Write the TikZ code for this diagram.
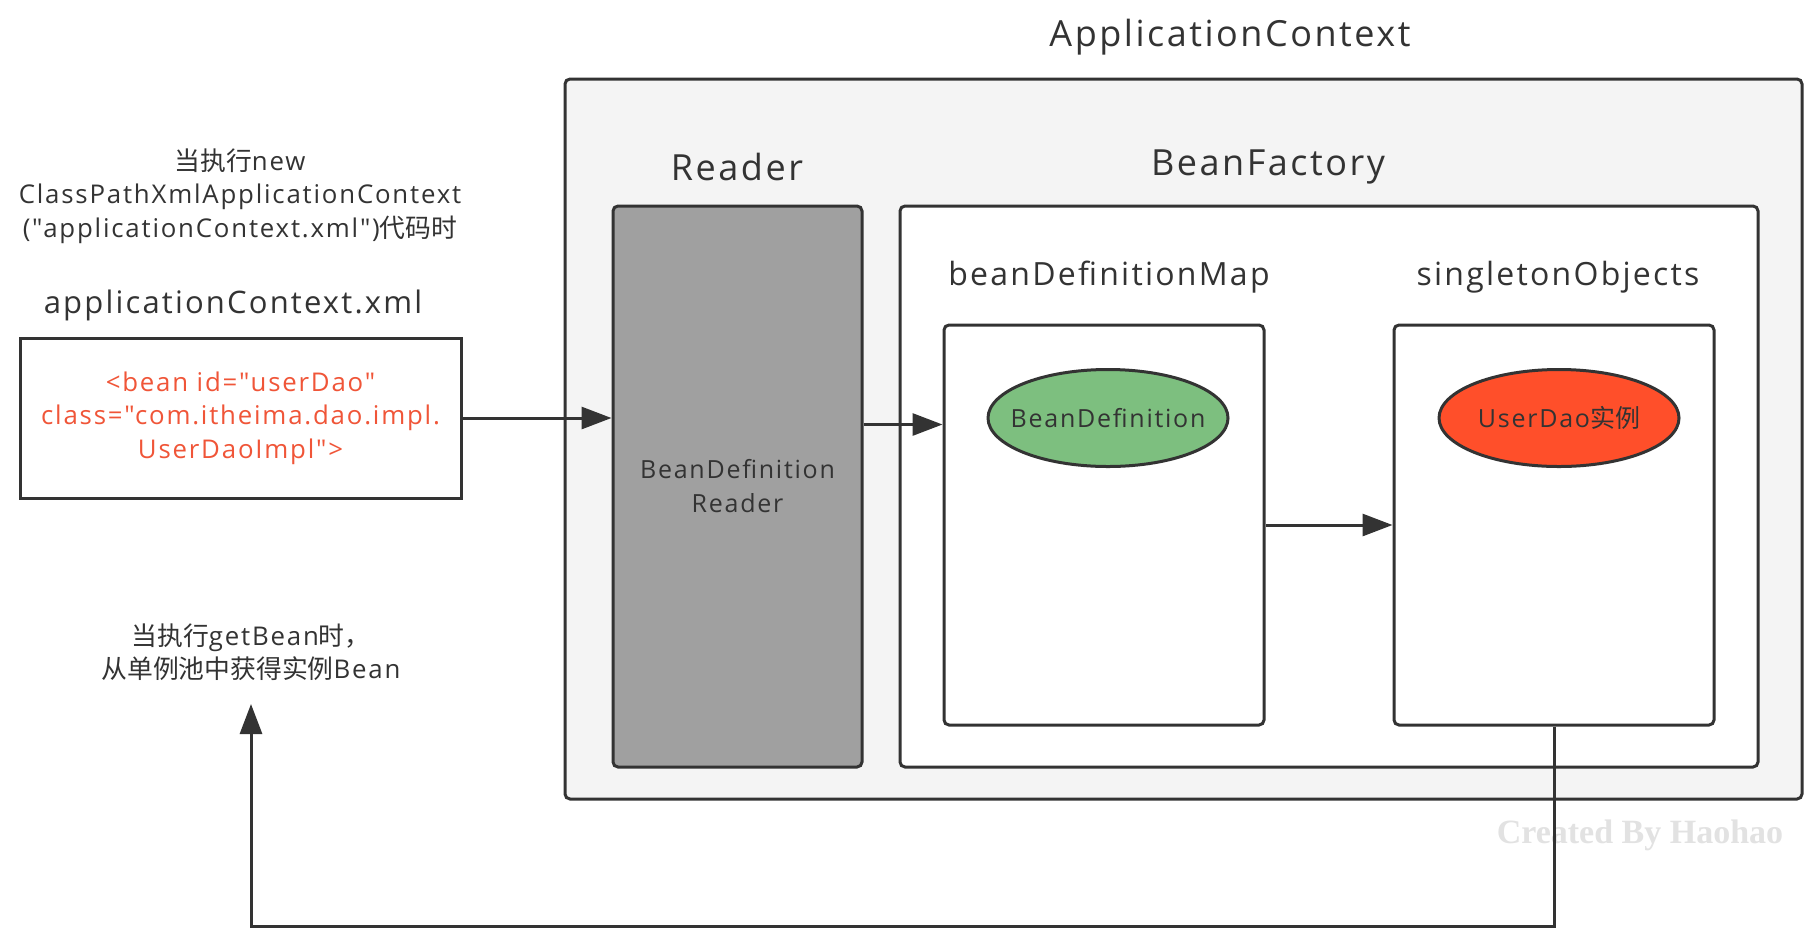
\documentclass[tikz,border=0pt]{standalone}
\usepackage{fontspec}
\setmainfont{Open Sans}[Ligatures=TeXOff,LetterSpace=7]
\newfontfamily\cjk{Noto Sans CJK SC}[Ligatures=TeXOff]
\newfontfamily\wmfont{Liberation Serif}
\usetikzlibrary{shapes.geometric,arrows.meta}
\definecolor{edge}{HTML}{333333}
\definecolor{txt}{HTML}{333333}
\definecolor{ctxfill}{HTML}{F4F4F4}
\definecolor{readerfill}{HTML}{A0A0A0}
\definecolor{beangreen}{HTML}{7DBF7F}
\definecolor{beanred}{HTML}{FF4F2A}
\definecolor{xmlred}{HTML}{F05538}
\definecolor{wm}{HTML}{E2E2E2}
\begin{document}
\begin{tikzpicture}[x=1pt,y=-1pt,
  box/.style={draw=edge,line width=3pt,rounded corners=5pt,inner sep=0pt,text=txt,align=center},
  lbl/.style={text=txt,inner sep=0pt,align=center},
  bigtxt/.style={font=\fontsize{36}{40}\selectfont},
  midtxt/.style={font=\fontsize{32}{38}\selectfont},
  smalltxt/.style={font=\fontsize{25.8}{33.5}\selectfont},
  bean/.style={ellipse,draw=edge,line width=3pt,minimum width=240pt,minimum height=97pt,inner xsep=-30pt,inner ysep=0pt,text=txt,font=\fontsize{25}{30}\selectfont},
  arr/.style={draw=edge,line width=3pt,-{Triangle[length=30pt,width=22pt]}}
]
\useasboundingbox (0,0) rectangle (1811,946);
\fill[white] (0,0) rectangle (1811,946);

% outer context
\node[box,fill=ctxfill,minimum width=1237pt,minimum height=720pt] (ctx) at (1183.5,439) {};
\node[lbl,bigtxt] (ctxlbl) at (1230,37) {ApplicationContext};

% reader
\node[lbl,bigtxt] (readerlbl) at (737,167) {Reader};
\node[box,fill=readerfill,minimum width=249pt,minimum height=561pt,font=\fontsize{25}{34}\selectfont] (reader) at (737.5,486.5) {BeanDefinition\\Reader};

% bean factory
\node[lbl,bigtxt] (factorylbl) at (1268,167) {BeanFactory};
\node[box,fill=white,minimum width=858pt,minimum height=561pt] (factory) at (1329,486.5) {};

% maps
\node[lbl,midtxt] (bdmlbl) at (1109,277) {beanDefinitionMap};
\node[box,fill=white,minimum width=320pt,minimum height=400pt] (bdm) at (1104,525) {};
\node[lbl,midtxt] (solbl) at (1558,277) {singletonObjects};
\node[box,fill=white,minimum width=320pt,minimum height=400pt] (so) at (1554,525) {};

\node[bean,fill=beangreen] (bd) at (1108,418) {BeanDefinition};
\node[bean,fill=beanred] (ud) at (1559,418) {UserDao{\cjk 实例}};

% xml
\node[lbl,smalltxt] (note1) at (240,196) {{\cjk 当执行}new\\ClassPathXmlApplicationContext\\("applicationContext.xml"){\cjk 代码时}};
\node[lbl,font=\fontsize{31}{38}\selectfont] (xmllbl) at (233,305) {applicationContext.xml};
\node[draw=edge,line width=3pt,fill=white,minimum width=441pt,minimum height=160pt,inner sep=0pt,align=center,text=xmlred,smalltxt] (xml) at (240.5,418) {<bean id="userDao"\\class="com.itheima.dao.impl.\\UserDaoImpl">};

% getBean note
\node[lbl,smalltxt] (note2) at (251,652) {{\cjk 当执行}getBean{\cjk 时，}\\{\cjk 从单例池中获得实例}Bean};

% watermark
\node[inner sep=0pt,text=wm,font=\wmfont\bfseries\fontsize{34}{38}\selectfont] (wmark) at (1640,835) {Created By Haohao};

% connectors
\draw[arr] (xml.east) -- (xml.east -| reader.west);
\draw[arr] ([yshift=62pt]reader.east) -- ([yshift=62pt]reader.east -| bdm.west);
\draw[arr] (bdm.east) -- (bdm.east -| so.west);
\coordinate (corner) at (251,926);
\coordinate (tip) at (251,704);
\draw[arr] (so.south) |- (corner) -- (tip);
\end{tikzpicture}
\end{document}
